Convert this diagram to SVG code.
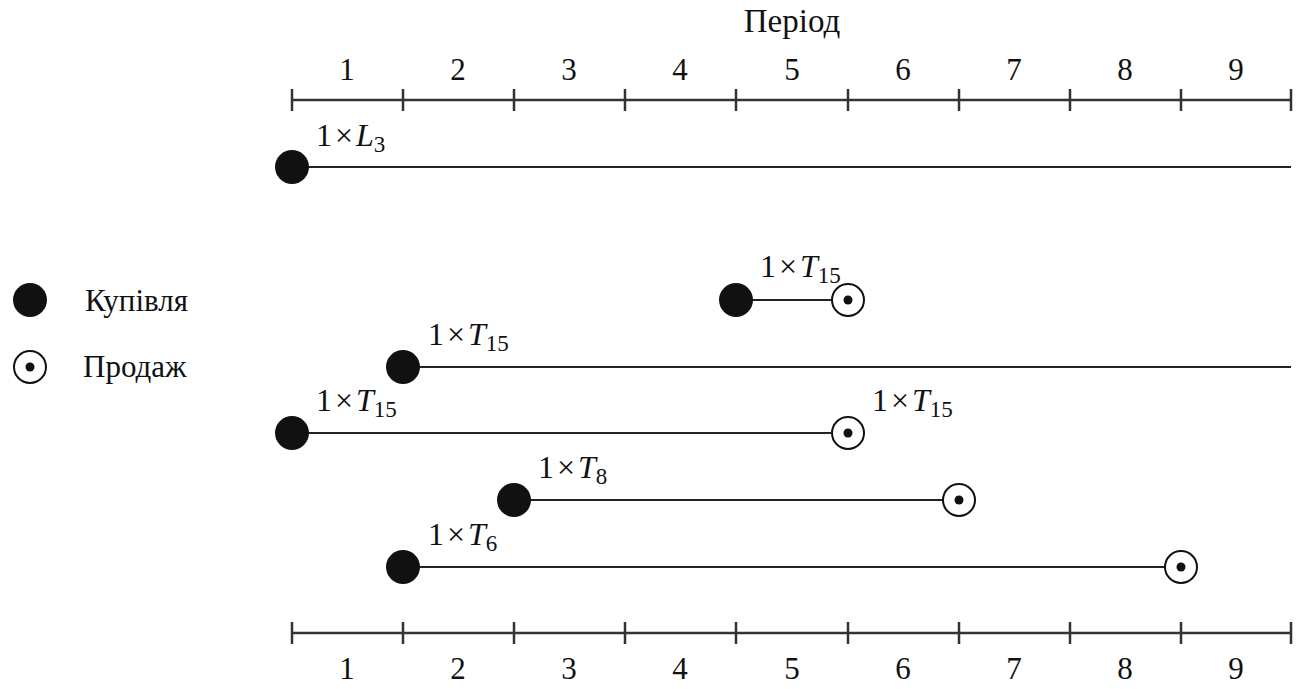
<svg xmlns="http://www.w3.org/2000/svg" width="1307" height="689" viewBox="0 0 1307 689" font-family="'Liberation Serif','Times New Roman','DejaVu Serif',serif">
<style>
text{font-family:'Liberation Serif','Times New Roman','DejaVu Serif',serif;fill:#111}
.num{font-size:31px;text-anchor:middle}
.title{font-size:33px;text-anchor:middle}
.lbl{font-size:32px}
.it{font-style:italic}
.sub{font-size:23px}
.leg{font-size:31px}
.axis{stroke:#333;stroke-width:2.5;fill:none}
.ln{stroke:#222;stroke-width:2;fill:none}
.buy{fill:#111}
.sell{fill:#fff;stroke:#111;stroke-width:2}
.dot{fill:#111}
</style>
<rect width="1307" height="689" fill="#fff"/>
<g id="top-axis">
<text x="792" y="32" class="title">Період</text>
<path class="axis" d="M292 100H1291M292 89V111M403 89V111M514 89V111M625 89V111M736 89V111M848 89V111M959 89V111M1070 89V111M1181 89V111M1291 89V111"/>
<text class="num" x="347" y="80">1</text><text class="num" x="458" y="80">2</text><text class="num" x="569" y="80">3</text><text class="num" x="680" y="80">4</text><text class="num" x="792" y="80">5</text><text class="num" x="903" y="80">6</text><text class="num" x="1014" y="80">7</text><text class="num" x="1125" y="80">8</text><text class="num" x="1236" y="80">9</text>
</g>
<g id="bottom-axis">
<path class="axis" d="M292 633H1291M292 622V644M403 622V644M514 622V644M625 622V644M736 622V644M848 622V644M959 622V644M1070 622V644M1181 622V644M1291 622V644"/>
<text class="num" x="347" y="679">1</text><text class="num" x="458" y="679">2</text><text class="num" x="569" y="679">3</text><text class="num" x="680" y="679">4</text><text class="num" x="792" y="679">5</text><text class="num" x="903" y="679">6</text><text class="num" x="1014" y="679">7</text><text class="num" x="1125" y="679">8</text><text class="num" x="1236" y="679">9</text>
</g>
<g id="connectors">
<path class="ln" d="M292 167H1291"/>
<path class="ln" d="M736 300H848"/>
<path class="ln" d="M403 367H1291"/>
<path class="ln" d="M292 433H848"/>
<path class="ln" d="M514 500H959"/>
<path class="ln" d="M403 567H1181"/>
</g>
<g id="legend">
<circle class="buy" cx="30" cy="300" r="17"/>
<text class="leg" x="85" y="311">Купівля</text>
<circle class="sell" cx="30" cy="367" r="16"/><circle class="dot" cx="30" cy="367" r="4.5"/>
<text class="leg" x="83" y="377">Продаж</text>
</g>
<g id="row-L3">
<circle class="buy" cx="292" cy="167" r="17"/>
<text class="lbl" x="316" y="146">1<tspan dx="3">×</tspan><tspan class="it" dx="3">L</tspan><tspan class="sub" dy="6">3</tspan></text>
</g>
<g id="row-T15-a">
<circle class="buy" cx="736" cy="300" r="17"/>
<circle class="sell" cx="848" cy="300" r="16"/><circle class="dot" cx="848" cy="300" r="4.5"/>
<text class="lbl" x="760" y="277">1<tspan dx="3">×</tspan><tspan class="it" dx="3">T</tspan><tspan class="sub" dy="6">15</tspan></text>
</g>
<g id="row-T15-b">
<circle class="buy" cx="403" cy="367" r="17"/>
<text class="lbl" x="428" y="345">1<tspan dx="3">×</tspan><tspan class="it" dx="3">T</tspan><tspan class="sub" dy="6">15</tspan></text>
</g>
<g id="row-T15-c">
<circle class="buy" cx="292" cy="433" r="17"/>
<circle class="sell" cx="848" cy="433" r="16"/><circle class="dot" cx="848" cy="433" r="4.5"/>
<text class="lbl" x="316" y="411">1<tspan dx="3">×</tspan><tspan class="it" dx="3">T</tspan><tspan class="sub" dy="6">15</tspan></text>
<text class="lbl" x="872" y="411">1<tspan dx="3">×</tspan><tspan class="it" dx="3">T</tspan><tspan class="sub" dy="6">15</tspan></text>
</g>
<g id="row-T8">
<circle class="buy" cx="514" cy="500" r="17"/>
<circle class="sell" cx="959" cy="500" r="16"/><circle class="dot" cx="959" cy="500" r="4.5"/>
<text class="lbl" x="538" y="478">1<tspan dx="3">×</tspan><tspan class="it" dx="3">T</tspan><tspan class="sub" dy="6">8</tspan></text>
</g>
<g id="row-T6">
<circle class="buy" cx="403" cy="567" r="17"/>
<circle class="sell" cx="1181" cy="567" r="16"/><circle class="dot" cx="1181" cy="567" r="4.5"/>
<text class="lbl" x="428" y="545">1<tspan dx="3">×</tspan><tspan class="it" dx="3">T</tspan><tspan class="sub" dy="6">6</tspan></text>
</g>
</svg>
